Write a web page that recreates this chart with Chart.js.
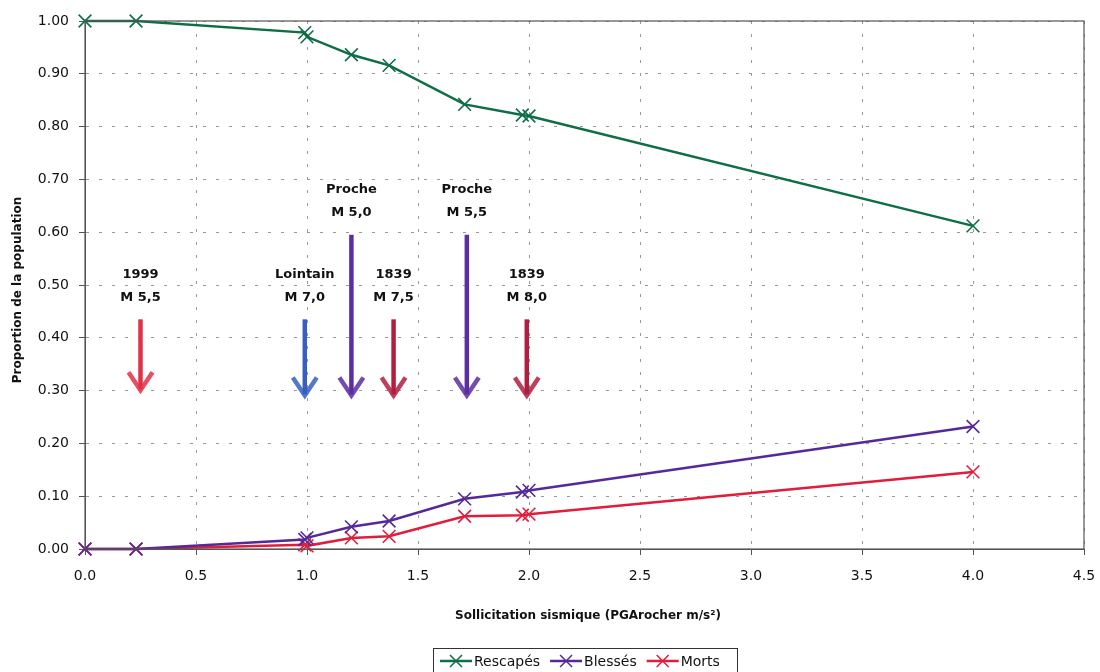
<!DOCTYPE html>
<html>
<head>
<meta charset="utf-8">
<script src="https://cdn.jsdelivr.net/npm/chart.js@4.4.1/dist/chart.umd.min.js"></script>
<style>
  html,body{margin:0;padding:0;background:#fff;}
  #wrap{width:1100px;height:672px;}
</style>
</head>
<body>
<div id="wrap"><canvas id="c" width="1100" height="672"></canvas></div>
<script>
// Proportion de la population vs sollicitation sismique
const xVals    = [0, 0.23, 0.99, 1.0, 1.2, 1.37, 1.71, 1.97, 2.0, 4.0];
const rescapes = [1.00, 1.00, 0.978, 0.970, 0.936, 0.916, 0.842, 0.822, 0.820, 0.612];
const blesses  = [0, 0, 0.018, 0.021, 0.042, 0.053, 0.095, 0.108, 0.111, 0.232];
const morts    = [0, 0, 0.008, 0.006, 0.021, 0.024, 0.062, 0.064, 0.066, 0.146];

const seriesNames  = ["Rescapés", "Blessés", "Morts"];
const seriesColors = ["#0e6e46", "#552a98", "#e01e3c"];

// événements (flèches)
const eventLine1 = ["1999", "Lointain", "Proche", "1839", "Proche", "1839"];
const eventLine2 = ["M 5,5", "M 7,0", "M 5,0", "M 7,5", "M 5,5", "M 8,0"];
const eventX     = [0.25, 0.99, 1.20, 1.39, 1.72, 1.99];
const eventTop   = [0.435, 0.435, 0.595, 0.435, 0.595, 0.435];
const eventTip   = [0.297, 0.287, 0.287, 0.287, 0.287, 0.287];
const eventColor = ["#e23048", "#3560c0", "#5b2fa2", "#b01f40", "#5b2fa2", "#b01f40"];

const xTicks = [0, 0.5, 1, 1.5, 2, 2.5, 3, 3.5, 4, 4.5];

const FONT = "'DejaVu Sans', sans-serif";

function pts(ys){ return xVals.map((x,i)=>({x, y: ys[i]})); }

const datasets = [rescapes, blesses, morts].map((ys,i)=>({
  label: seriesNames[i],
  data: pts(ys),
  borderColor: seriesColors[i],
  backgroundColor: seriesColors[i],
  borderWidth: 2.5,
  pointStyle: 'crossRot',
  pointRadius: 9,
  pointBorderWidth: 1.6,
  pointHoverRadius: 9,
  clip: false,
  tension: 0
}));

const extras = {
  id: 'extras',
  afterDraw(chart){
    const ctx = chart.ctx, a = chart.chartArea;
    const xs = chart.scales.x, ys = chart.scales.y;
    ctx.save();
    // cadre
    ctx.strokeStyle = '#555'; ctx.lineWidth = 1.2; ctx.setLineDash([]);
    ctx.strokeRect(a.left, a.top, a.right - a.left, a.bottom - a.top);

    // flèches
    eventX.forEach((ex,i)=>{
      const px = xs.getPixelForValue(ex);
      const top = ys.getPixelForValue(eventTop[i]);
      const tip = ys.getPixelForValue(eventTip[i]);
      ctx.strokeStyle = eventColor[i];
      ctx.lineCap = 'butt';
      ctx.lineWidth = 4.5;
      ctx.beginPath(); ctx.moveTo(px, top); ctx.lineTo(px, tip - 3); ctx.stroke();
      ctx.globalAlpha = 0.85;
      ctx.lineWidth = 4.5; ctx.lineJoin = 'miter';
      ctx.beginPath();
      ctx.moveTo(px - 12, tip - 20); ctx.lineTo(px, tip - 2); ctx.lineTo(px + 12, tip - 20);
      ctx.stroke();
      ctx.globalAlpha = 1;
      ctx.fillStyle = '#111';
      ctx.font = "bold 13px " + FONT;
      ctx.textAlign = 'center'; ctx.textBaseline = 'middle';
      ctx.fillText(eventLine1[i], px, top - 45);
      ctx.fillText(eventLine2[i], px, top - 22);
    });

    // titres des axes
    ctx.fillStyle = '#111';
    ctx.font = "bold 12px " + FONT;
    ctx.textAlign = 'center'; ctx.textBaseline = 'middle';
    ctx.fillText("Sollicitation sismique (PGArocher m/s²)", 588, 616);
    ctx.save();
    ctx.translate(18, 290); ctx.rotate(-Math.PI/2);
    ctx.fillText("Proportion de la population", 0, 0);
    ctx.restore();

    // légende
    const lx = 433, ly = 648, lw = 304, lh = 28;
    ctx.strokeStyle = '#333'; ctx.lineWidth = 1;
    ctx.strokeRect(lx + 0.5, ly + 0.5, lw, lh);
    ctx.font = "14px " + FONT;
    ctx.textAlign = 'left';
    let cx = lx + 7;
    const cy = ly + 13;
    chart.data.datasets.forEach(ds=>{
      ctx.strokeStyle = ds.borderColor; ctx.lineWidth = 2.5;
      ctx.beginPath(); ctx.moveTo(cx, cy); ctx.lineTo(cx + 32, cy); ctx.stroke();
      ctx.lineWidth = 1.5;
      const m = cx + 16;
      ctx.beginPath();
      ctx.moveTo(m - 6, cy - 6); ctx.lineTo(m + 6, cy + 6);
      ctx.moveTo(m + 6, cy - 6); ctx.lineTo(m - 6, cy + 6);
      ctx.stroke();
      ctx.fillStyle = '#111';
      ctx.fillText(ds.label, cx + 34, cy + 1);
      cx += 36 + ctx.measureText(ds.label).width + 8;
    });
    ctx.restore();
  }
};

new Chart(document.getElementById('c'), {
  type: 'line',
  data: { datasets },
  options: {
    responsive: false,
    animation: false,
    layout: { padding: { top: 21, right: 16, left: 0, bottom: 0 } },
    plugins: { legend: { display: false }, tooltip: { enabled: false } },
    scales: {
      x: {
        type: 'linear', min: 0, max: 4.5,
        afterBuildTicks(s){ s.ticks = xTicks.map(v=>({value: v})); },
        afterFit(s){ s.height = 123; s.paddingLeft = 0; s.paddingRight = 0; },
        ticks: { color: '#111', font: { family: FONT, size: 14 }, padding: 13,
                 callback: v => v.toFixed(1), maxRotation: 0 },
        grid: { color: '#999', tickLength: 6,
                tickBorderDash: [], tickColor: '#555', lineWidth: 1 },
        border: { display: true, color: '#555', dash: [3, 10] }
      },
      y: {
        type: 'linear', min: 0, max: 1,
        ticks: { stepSize: 0.1, color: '#111', font: { family: FONT, size: 14 }, padding: 10,
                 callback: v => v.toFixed(2) },
        afterFit(s){ s.width = 85; s.paddingTop = 0; s.paddingBottom = 0; },
        grid: { color: '#999', tickLength: 6,
                tickBorderDash: [], tickColor: '#555', lineWidth: 1 },
        border: { display: true, color: '#555', dash: [3, 10] }
      }
    }
  },
  plugins: [extras]
});
</script>
</body>
</html>
